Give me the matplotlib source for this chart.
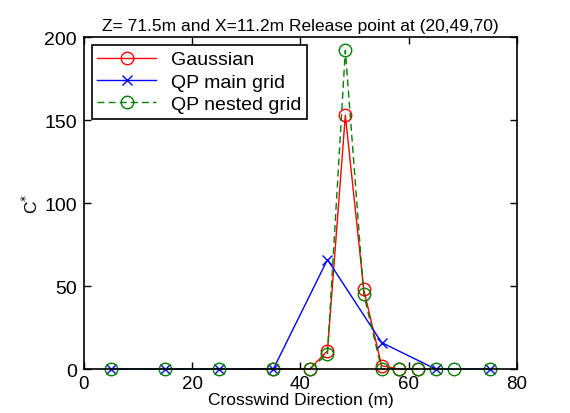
import matplotlib.pyplot as plt

plt.rcParams['font.family'] = ['Liberation Sans', 'DejaVu Sans']

# Gaussian solution on the nested grid
gauss_x = [30, 35, 41.7, 45, 48.3, 51.7, 55, 58.3, 61.7]
gauss_c = [0, 0, 0, 11, 153, 48, 2, 0, 0]

# QP model on the main grid
main_x = [5, 15, 25, 35, 45, 55, 65, 75]
main_c = [0, 0, 0, 0, 66, 16, 0, 0]

# QP model on the nested grid
nest_x = [5, 15, 25, 35, 41.7, 45, 48.3, 51.7, 55, 58.3, 61.7, 65, 68.3, 75]
nest_c = [0, 0, 0, 0, 0, 9, 192, 45, 0, 0, 0, 0, 0, 0]

fig = plt.figure(figsize=(5.7, 4.14), dpi=100)
ax = fig.add_axes([0.147, 0.106, 0.76, 0.802])

ax.plot(gauss_x, gauss_c, '-o', color='red', lw=1, ms=9, mfc='none',
        mew=1, markevery=list(range(1, len(gauss_x))), clip_on=False,
        label='Gaussian')
ax.plot(main_x, main_c, '-x', color='blue', lw=1, ms=7, mew=1,
        clip_on=False, label='QP main grid')
ax.plot(nest_x, nest_c, '--o', color='green', lw=1, ms=9, mfc='none',
        mew=1, dashes=(5, 3), clip_on=False, label='QP nested grid')

ax.set_xlim(0, 80)
ax.set_ylim(0, 200)
ax.set_xticks([0, 20, 40, 60, 80])
ax.set_yticks([0, 50, 100, 150, 200])
ax.tick_params(direction='in', top=True, right=True, length=5,
               width=1, labelsize=14, pad=5)
ax.tick_params(axis='x', labelsize=13.5, pad=4)
for s in ax.spines.values():
    s.set_linewidth(1.2)

ax.set_title('Z= 71.5m and X=11.2m Release point at (20,49,70)',
             fontsize=12.5, pad=5)
ax.set_xlabel('Crosswind Direction (m)', fontsize=12.5, labelpad=0)
ax.set_ylabel('C$^{*}$', fontsize=12.5, labelpad=2)

leg = ax.legend(loc='upper left', fontsize=14, fancybox=False,
                edgecolor='black', framealpha=1, borderaxespad=0.4,
                handlelength=3.0, labelspacing=0.25, borderpad=0.3)
leg.get_frame().set_linewidth(1.2)

fig.savefig('out.png', dpi=100)
